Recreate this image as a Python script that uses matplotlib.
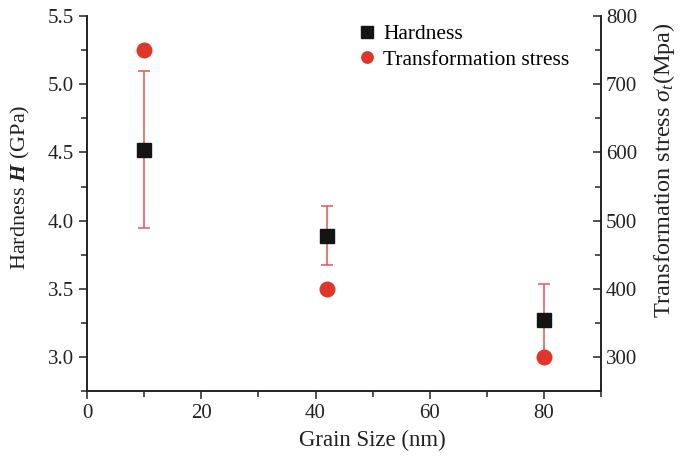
import numpy as np
import matplotlib
matplotlib.use("Agg")
import matplotlib.pyplot as plt
from matplotlib.ticker import MultipleLocator

plt.rcParams['font.family'] = ['Liberation Serif', 'DejaVu Serif']
plt.rcParams['mathtext.fontset'] = 'custom'
plt.rcParams['mathtext.rm'] = 'Liberation Serif'
plt.rcParams['mathtext.it'] = 'Liberation Serif:italic'
plt.rcParams['mathtext.bf'] = 'Liberation Serif:bold:italic'

# data
grain_size = [10, 42, 80]
hardness = [4.52, 3.89, 3.27]
hardness_err = [0.575, 0.218, 0.265]
stress = [750, 400, 300]

black = '#141414'
red = '#e0352a'
txt = '#222222'

fig = plt.figure(figsize=(6.8, 4.59), dpi=100)
ax = fig.add_axes([0.128, 0.148, 0.756, 0.817])
ax2 = ax.twinx()

ax.errorbar(grain_size, hardness, yerr=hardness_err, fmt='none',
            ecolor='#e05550', elinewidth=1.1, capsize=4, capthick=1.1, zorder=2)
h1, = ax.plot(grain_size, hardness, 's', color=black, markersize=10.5,
              label='Hardness', zorder=3)
h2, = ax2.plot(grain_size, stress, 'o', color=red, markersize=11.5,
               markeredgewidth=0, label='Transformation stress')

ax.set_xlim(0, 90)
ax.set_ylim(2.75, 5.5)
ax2.set_ylim(250, 800)

ax.xaxis.set_major_locator(MultipleLocator(20))
ax.xaxis.set_minor_locator(MultipleLocator(10))
ax.yaxis.set_minor_locator(MultipleLocator(0.25))
ax2.yaxis.set_minor_locator(MultipleLocator(50))
ax2.set_yticks([300, 400, 500, 600, 700, 800])
ax.set_yticks([3.0, 3.5, 4.0, 4.5, 5.0, 5.5])

for a in (ax, ax2):
    a.spines['top'].set_visible(False)
    for s in a.spines.values():
        s.set_linewidth(1.2)
        s.set_color(txt)

ax.tick_params(which='both', direction='out', labelsize=15, colors=txt, width=1.1)
ax.tick_params(which='major', length=6)
ax.tick_params(which='minor', length=4)
ax2.tick_params(which='both', direction='in', labelsize=15, colors=txt, width=1.1)
ax2.tick_params(which='major', length=6)
ax2.tick_params(which='minor', length=4)

ax.set_xlabel('Grain Size (nm)', fontsize=16.5, color=txt, labelpad=5)
ax.xaxis.label.set_x(0.556)
ax.set_ylabel(r'Hardness $\mathbf{H}$ (GPa)', fontsize=16, color=txt, labelpad=11)
ax2.set_ylabel(r'Transformation stress $\sigma_t$(Mpa)', fontsize=17.5, color=txt, labelpad=10)
ax.yaxis.label.set_y(0.544)
ax2.yaxis.label.set_y(0.59)

ax2.legend([h1, h2], ['Hardness', 'Transformation stress'], loc='upper left',
           bbox_to_anchor=(0.49, 1.03), frameon=False, fontsize=15.5, markerscale=0.8,
           handlelength=0.8, handletextpad=0.35, labelspacing=0.25)

fig.savefig('out.png', dpi=100)
